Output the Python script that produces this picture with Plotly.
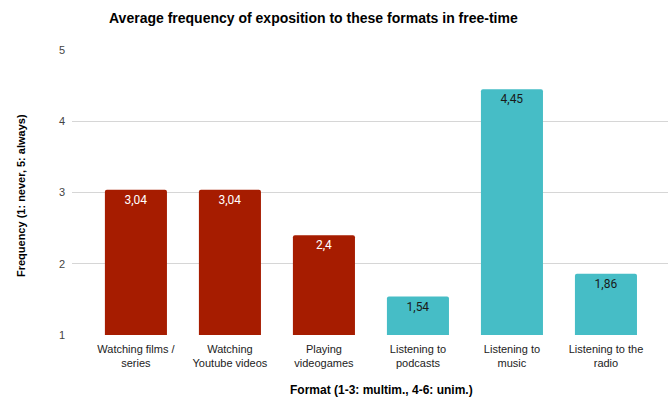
import plotly.graph_objects as go

# Survey categories and average scores (1: never, 5: always)
categories = [
    "Watching films /<br>series",
    "Watching<br>Youtube videos",
    "Playing<br>videogames",
    "Listening to<br>podcasts",
    "Listening to<br>music",
    "Listening to the<br>radio",
]
values = [3.04, 3.04, 2.4, 1.54, 4.45, 1.86]
labels = ["3,04", "3,04", "2,4", "1,54", "4,45", "1,86"]
bar_colors = ["#a61c00", "#a61c00", "#a61c00", "#46bdc6", "#46bdc6", "#46bdc6"]
label_colors = ["#ffffff", "#ffffff", "#ffffff", "#1a1a1a", "#1a1a1a", "#1a1a1a"]
y_ticks = [1, 2, 3, 4, 5]

fig = go.Figure(
    go.Bar(
        x=categories,
        y=values,
        text=labels,
        textposition="inside",
        insidetextanchor="end",
        textangle=0,
        textfont=dict(family="Roboto", size=12, color=label_colors),
        marker=dict(color=bar_colors, cornerradius=2, line=dict(width=0)),
        width=0.66,
        hoverinfo="skip",
    )
)

fig.update_layout(
    width=669,
    height=403,
    margin=dict(l=72, r=1, t=50, b=68),
    paper_bgcolor="white",
    plot_bgcolor="white",
    showlegend=False,
    title=dict(
        text="<b>Average frequency of exposition to these formats in free-time</b>",
        x=0.405,
        xanchor="center",
        xref="paper",
        y=1 - 18 / 403,
        yanchor="middle",
        font=dict(family="Arial", size=14, color="#000000"),
    ),
    xaxis=dict(
        range=[-0.68, 5.66],
        showgrid=False,
        showline=False,
        zeroline=False,
        ticks="",
        ticklabelstandoff=6,
        tickfont=dict(family="Arial", size=11, color="#222222"),
    ),
    yaxis=dict(
        range=[1, 5],
        tickvals=y_ticks,
        ticktext=[str(t) for t in y_ticks],
        showgrid=True,
        gridcolor="#d6d6d6",
        gridwidth=1,
        zeroline=False,
        showline=False,
        ticks="",
        ticklabelstandoff=6,
        tickfont=dict(family="Arial", size=11, color="#444444"),
    ),
    annotations=[
        dict(
            text="<b>Format (1-3: multim., 4-6: unim.)</b>",
            xref="paper", yref="paper",
            x=0.52, y=-0.193,
            xanchor="center", yanchor="middle",
            showarrow=False,
            font=dict(family="Arial", size=12, color="#000000"),
        ),
        dict(
            text="<b>Frequency (1: never, 5: always)</b>",
            xref="paper", yref="paper",
            x=-0.0856, y=0.491,
            xanchor="center", yanchor="middle",
            textangle=-90,
            showarrow=False,
            font=dict(family="Arial", size=11, color="#000000"),
        ),
    ],
)

fig.write_html("out.html")
